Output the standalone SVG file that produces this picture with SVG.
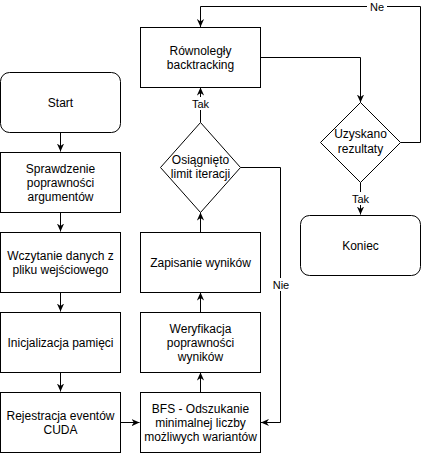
<svg xmlns="http://www.w3.org/2000/svg" width="429" height="453" viewBox="0 0 429 453">
<defs>
<style>
.box{fill:#fff;stroke:#000;stroke-width:1}
.t{font-family:"Liberation Sans",Arial,sans-serif;font-size:12px;fill:#000;text-anchor:middle;dominant-baseline:central}
.lbl{font-family:"Liberation Sans",Arial,sans-serif;font-size:11px;fill:#000;text-anchor:middle;dominant-baseline:central}
.bg{fill:#fff;stroke:none}
.c{fill:none;stroke:#000;stroke-width:1}
</style>
<marker id="arr" viewBox="0 0 10 10" refX="10" refY="5" markerWidth="8" markerHeight="8" markerUnits="userSpaceOnUse" orient="auto">
<path d="M0,0.5 L10,5 L0,9.5 L3,5 z" fill="#000" stroke="none"/>
</marker>
</defs>
<rect width="429" height="453" fill="#fff"/>
<g id="connectors">
<path class="c" d="M60.5,132.5 V151.5" marker-end="url(#arr)"/>
<path class="c" d="M60.5,212.5 V231.5" marker-end="url(#arr)"/>
<path class="c" d="M60.5,292.5 V311.5" marker-end="url(#arr)"/>
<path class="c" d="M60.5,372.5 V391.5" marker-end="url(#arr)"/>
<path class="c" d="M120.5,422.5 H139.5" marker-end="url(#arr)"/>
<path class="c" d="M200.5,392.5 V372.5" marker-end="url(#arr)"/>
<path class="c" d="M200.5,312.5 V292.5" marker-end="url(#arr)"/>
<path class="c" d="M200.5,232.5 V212.5" marker-end="url(#arr)"/>
<path class="c" d="M200.5,122.5 V87.5" marker-end="url(#arr)"/>
<path class="c" d="M240.5,167.5 H280.5 V422.5 H261" marker-end="url(#arr)"/>
<path class="c" d="M260.5,57.5 H360.5 V102.5" marker-end="url(#arr)"/>
<path class="c" d="M400.5,142.5 H420.5 V6.5 H200.5 V27" marker-end="url(#arr)"/>
<path class="c" d="M360.5,182.5 V214.5" marker-end="url(#arr)"/>
<rect class="bg" x="367" y="0" width="20" height="13"/>
<text class="lbl" x="377" y="7">Ne</text>
<rect class="bg" x="190" y="97" width="21" height="13"/>
<text class="lbl" x="200.5" y="103.5">Tak</text>
<rect class="bg" x="350" y="192" width="21" height="13"/>
<text class="lbl" x="360.5" y="198.5">Tak</text>
<rect class="bg" x="271" y="278" width="20" height="13"/>
<text class="lbl" x="281" y="284.5">Nie</text>
</g>
<g id="start">
<rect class="box" x="0.5" y="72.5" width="120" height="60" rx="9"/>
<text class="t" x="60.5" y="102.5">Start</text>
</g>
<g id="sprawdzenie">
<rect class="box" x="0.5" y="152.5" width="120" height="60"/>
<text class="t" x="60.5" y="168.5">Sprawdzenie</text>
<text class="t" x="60.5" y="182.5">poprawności</text>
<text class="t" x="60.5" y="196.5">argumentów</text>
</g>
<g id="wczytanie">
<rect class="box" x="0.5" y="232.5" width="120" height="60"/>
<text class="t" x="60.5" y="255.5">Wczytanie danych z</text>
<text class="t" x="60.5" y="269.5">pliku wejściowego</text>
</g>
<g id="inicjalizacja">
<rect class="box" x="0.5" y="312.5" width="120" height="60"/>
<text class="t" x="60.5" y="342.5">Inicjalizacja pamięci</text>
</g>
<g id="rejestracja">
<rect class="box" x="0.5" y="392.5" width="120" height="60"/>
<text class="t" x="60.5" y="415.5">Rejestracja eventów</text>
<text class="t" x="60.5" y="429.5">CUDA</text>
</g>
<g id="bfs">
<rect class="box" x="140.5" y="392.5" width="120" height="60"/>
<text class="t" x="200.5" y="408.5">BFS - Odszukanie</text>
<text class="t" x="200.5" y="422.5">minimalnej liczby</text>
<text class="t" x="200.5" y="436.5">możliwych wariantów</text>
</g>
<g id="weryfikacja">
<rect class="box" x="140.5" y="312.5" width="120" height="60"/>
<text class="t" x="200.5" y="328.5">Weryfikacja</text>
<text class="t" x="200.5" y="342.5">poprawności</text>
<text class="t" x="200.5" y="356.5">wyników</text>
</g>
<g id="zapisanie">
<rect class="box" x="140.5" y="232.5" width="120" height="60"/>
<text class="t" x="200.5" y="262.5">Zapisanie wyników</text>
</g>
<g id="osiagnieto">
<path class="box" d="M200.5,122.5 L240.5,167.5 L200.5,212.5 L160.5,167.5 Z"/>
<text class="t" x="200.5" y="159.5">Osiągnięto</text>
<text class="t" x="200.5" y="173.5">limit iteracji</text>
</g>
<g id="rownolegly">
<rect class="box" x="140.5" y="27.5" width="120" height="60"/>
<text class="t" x="200.5" y="50.5">Równoległy</text>
<text class="t" x="200.5" y="64.5">backtracking</text>
</g>
<g id="uzyskano">
<path class="box" d="M360.5,102.5 L400.5,142.5 L360.5,182.5 L320.5,142.5 Z"/>
<text class="t" x="360.5" y="133.5">Uzyskano</text>
<text class="t" x="360.5" y="148.5">rezultaty</text>
</g>
<g id="koniec">
<rect class="box" x="300.5" y="215.5" width="120" height="60" rx="9"/>
<text class="t" x="360.5" y="245.5">Koniec</text>
</g>
</svg>
